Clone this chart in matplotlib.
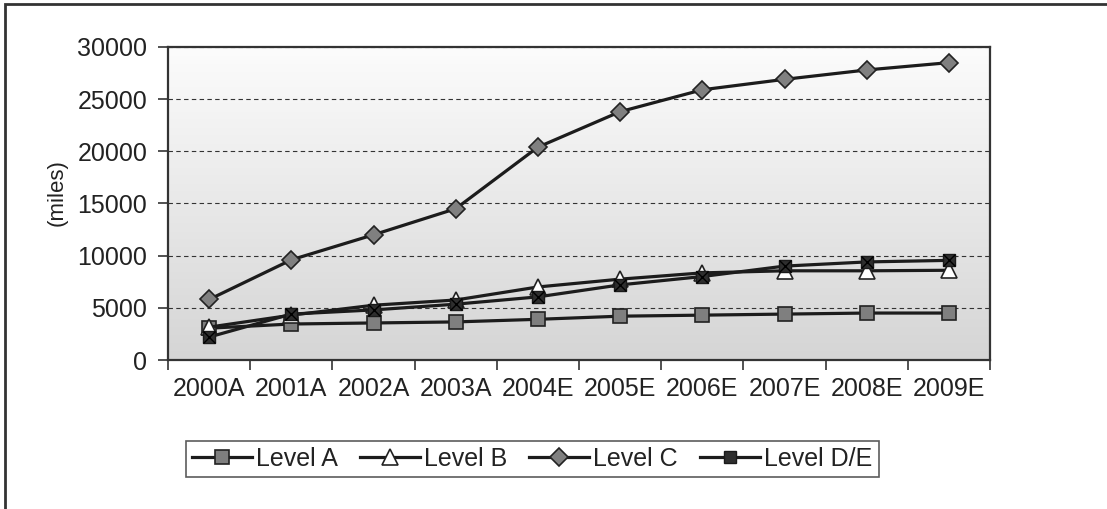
import matplotlib.pyplot as plt
import numpy as np
from matplotlib.patches import Rectangle
from matplotlib.colors import LinearSegmentedColormap

plt.rcParams['font.family'] = ['Liberation Sans', 'DejaVu Sans']

years = ['2000A', '2001A', '2002A', '2003A', '2004E',
         '2005E', '2006E', '2007E', '2008E', '2009E']
level_a = [3050, 3450, 3550, 3650, 3900, 4200, 4300, 4400, 4500, 4500]
level_b = [3150, 4300, 5250, 5750, 7000, 7750, 8350, 8550, 8550, 8600]
level_c = [5800, 9600, 12000, 14500, 20400, 23800, 25900, 26900, 27800, 28500]
level_de = [2200, 4400, 4800, 5350, 6050, 7200, 8000, 9000, 9400, 9550]

fig = plt.figure(figsize=(11.07, 5.09), dpi=100)

# outer chart frame (only left and top edges fall inside the image)
fig.patches.append(Rectangle((5 / 1107, -0.05), 1.2, 1 - 4 / 509 + 0.05,
                             transform=fig.transFigure, fill=False,
                             edgecolor='#333333', linewidth=2))

ax = fig.add_axes([168 / 1107, 1 - 360 / 509, 822 / 1107, 313 / 509])

# grey gradient plot area
grad = np.linspace(0, 1, 256).reshape(-1, 1)
cmap = LinearSegmentedColormap.from_list('bg', ['#fcfcfc', '#d5d5d5'])
ax.imshow(grad, cmap=cmap, aspect='auto', extent=[0, 1, 0, 1],
          transform=ax.transAxes, zorder=0)

x = np.arange(len(years)) + 0.5
lc = '#1c1c1c'
ax.plot(x, level_a, color=lc, lw=2.3, marker='s', ms=10,
        mfc='#7f7f7f', mec='#222222', mew=1.2, label='Level A', zorder=3)
ax.plot(x, level_b, color=lc, lw=2.3, marker='^', ms=11,
        mfc='white', mec='#222222', mew=1.2, label='Level B', zorder=3)
ax.plot(x, level_c, color=lc, lw=2.3, marker='D', ms=9,
        mfc='#808080', mec='#222222', mew=1.2, label='Level C', zorder=3)
ax.plot(x, level_de, color=lc, lw=2.3, marker='s', ms=9,
        mfc='#2e2e2e', mec='#1a1a1a', mew=1.0, label='Level D/E', zorder=4)
ax.plot(x, level_de, ls='none', marker='x', ms=8, mec='black', mew=1.0,
        zorder=5)

ax.set_xlim(0, 10)
ax.set_ylim(0, 30000)
ax.set_yticks(np.arange(0, 30001, 5000))
ax.yaxis.grid(True, linestyle=(0, (4, 3)), color='#333333', linewidth=0.8)
ax.set_axisbelow(False)
for ln in ax.get_ygridlines():
    ln.set_zorder(1)

ax.set_xticks(np.arange(0, 11))
ax.set_xticklabels([])
ax.set_xticks(x, minor=True)
ax.set_xticklabels(years, minor=True)
ax.tick_params(axis='x', which='minor', length=0, pad=12, labelsize=18,
               labelcolor='#222222')
ax.tick_params(axis='x', which='major', length=7, width=1.2, color='#333333')
ax.tick_params(axis='y', length=7, width=1.2, color='#333333', pad=8,
               labelsize=18, labelcolor='#222222')

for s in ax.spines.values():
    s.set_color('#333333')
    s.set_linewidth(1.6)

fig.text(57 / 1107, 1 - 193 / 509, '(miles)', rotation=90, fontsize=16,
         color='#222222', ha='center', va='center')

leg = fig.legend(loc='center', bbox_to_anchor=(532 / 1107, 1 - 459 / 509),
                 ncol=4, fontsize=18, frameon=True, fancybox=False,
                 edgecolor='#333333', handlelength=2.4, handletextpad=0.15,
                 columnspacing=0.9, borderpad=0.25)
leg.get_frame().set_linewidth(1.2)
for t in leg.get_texts():
    t.set_color('#222222')

fig.savefig('out.png', dpi=100)
